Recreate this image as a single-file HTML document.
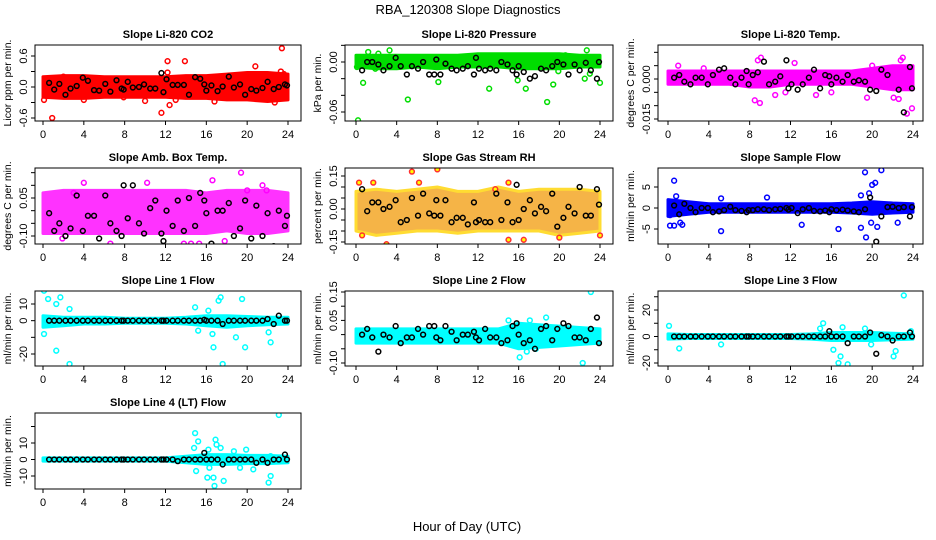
<!DOCTYPE html>
<html><head><meta charset="utf-8"><style>
body{margin:0;background:#fff}
svg{display:block;font-family:"Liberation Sans",Arial,sans-serif}
</style></head><body>
<svg id="chart" width="936" height="540" viewBox="0 0 936 540" xmlns="http://www.w3.org/2000/svg">
<rect width="936" height="540" fill="#fff"/>
<text x="468" y="14" text-anchor="middle" font-size="13">RBA_120308  Slope Diagnostics</text>
<text x="467" y="531" text-anchor="middle" font-size="13">Hour of Day (UTC)</text>
</svg>
<script>
const xTicks=[0,4,8,12,16,20,24];
const blackTimes=[0.6,1.1,1.6,2.2,2.7,3.3,3.9,4.4,5.0,5.5,6.1,6.6,7.2,7.7,7.9,8.3,8.8,9.4,9.9,10.5,11.0,11.6,11.8,12.1,12.7,13.2,13.8,14.3,14.9,15.4,15.8,16.0,16.5,17.1,17.6,18.2,18.7,19.3,19.8,20.4,20.9,21.5,22.0,22.6,23.1,23.7,23.9];
const bandHours=[0,2,4,6,8,10,12,14,16,18,20,22,24];
const titles=["Slope Li-820 CO2","Slope Li-820 Pressure","Slope Li-820 Temp.","Slope Amb. Box Temp.","Slope Gas Stream RH","Slope Sample Flow","Slope Line 1 Flow","Slope Line 2 Flow","Slope Line 3 Flow","Slope Line 4 (LT) Flow"];
const yTitles=["Licor ppm per min.","kPa per min.","degrees C per min.","degrees C per min.","percent per min.","ml/min per min.","ml/min per min.","ml/min per min.","ml/min per min.","ml/min per min."];
const colors=["#ff0000","#00dd00","#ff00ff","#ff00ff","#ffa500","#0000ff","#00ffff","#00ffff","#00ffff","#00ffff"];
const yTickVals=[[-0.6,-0.3,0,0.3,0.6],[-0.06,-0.04,-0.02,0,0.02],[-0.015,-0.01,-0.005,0,0.005,0.01],[-0.1,-0.05,0,0.05,0.1,0.15],[-0.15,-0.1,-0.05,0,0.05,0.1,0.15],[-5,0,5],[-20,-10,0,10],[-0.1,-0.05,0,0.05,0.1,0.15],[-20,-10,0,10,20,30],[-10,0,10,20]];
const yTickLabels=[["-0.6","","0.0","","0.6"],["-0.06","","","0.00",""],["-0.015","","","0.000","",""],["-0.10","","","0.05","",""],["-0.15","","","0.00","","","0.15"],["-5","0","5"],["-20","","0","10"],["-0.10","","","0.05","","0.15"],["-20","","0","","20",""],["-10","0","10",""]];
const bandUp=[[0.2,0.22,0.22,0.2,0.2,0.2,0.2,0.22,0.22,0.25,0.28,0.28,0.25],[0.008,0.008,0.008,0.008,0.008,0.008,0.01,0.01,0.01,0.01,0.01,0.008,0.008],[0.003,0.003,0.003,0.003,0.003,0.003,0.003,0.003,0.003,0.003,0.004,0.005,0.005],[0.07,0.08,0.08,0.08,0.08,0.08,0.08,0.08,0.07,0.08,0.08,0.08,0.07],[0.08,0.09,0.08,0.09,0.1,0.08,0.08,0.1,0.08,0.09,0.09,0.09,0.08],[2,1.5,1,1,1,1,1,1,1,1.2,1.5,1.2,1],[3,2,2,2,1.5,1.5,1.5,2,3,3,2.5,2,2],[0.02,0.02,0.02,0.02,0.02,0.02,0.02,0.02,0.04,0.035,0.03,0.025,0.02],[2,1.5,1.5,1.5,1.5,1.5,1.5,2,3,3,3,2.5,2],[1,1,1,1,1,1,1,2,3,3,2.5,2.5,2]];
const bandLo=[[-0.2,-0.22,-0.22,-0.2,-0.2,-0.2,-0.2,-0.22,-0.22,-0.25,-0.25,-0.28,-0.25],[-0.006,-0.008,-0.008,-0.006,-0.008,-0.006,-0.006,-0.006,-0.008,-0.008,-0.008,-0.006,-0.006],[-0.002,-0.002,-0.002,-0.002,-0.003,-0.003,-0.002,-0.002,-0.002,-0.002,-0.003,-0.004,-0.004],[-0.09,-0.09,-0.09,-0.09,-0.09,-0.09,-0.09,-0.09,-0.09,-0.08,-0.09,-0.09,-0.08],[-0.1,-0.12,-0.11,-0.1,-0.1,-0.11,-0.1,-0.1,-0.1,-0.1,-0.12,-0.11,-0.1],[-2,-1.5,-1,-1,-1,-1,-1,-1,-1,-1.2,-1.5,-1.2,-1],[-4,-3,-2,-2,-1.5,-1.5,-1.5,-2,-3,-4,-3,-2.5,-2],[-0.03,-0.03,-0.03,-0.03,-0.03,-0.03,-0.03,-0.03,-0.05,-0.045,-0.04,-0.035,-0.03],[-2,-1.5,-1.5,-1.5,-1.5,-1.5,-1.5,-2,-3,-3,-3,-2.5,-2],[-1,-1,-1,-1,-1,-1,-1,-2,-3,-3,-2.5,-2.5,-2]];
const outT=[[0.9,0.1,12.2,13.9,11.6,12.4,13,23.4,23.3,20.8,22.7,4,7.9,10,16.8,2,12.2,23.6,23.8],[0.2,0.7,1.2,2.2,3.3,5.1,8.1,13.1,15.9,16.7,18.8,19.4,22.7,22.5,23,24,0.1,1.9,19.9,20.6],[8.8,9.1,8.5,9,12.4,23,22.6,22.1,22.5,23.4,23.9,11.5,14.5,19.5,1,20,22.8,3.5,10.5,16],[19.4,4,10.2,16.6,20,21.5,4.1,6,11.4,12.4,13.8,14.5,15.3,17.8,6.6,21.9,1.9,3],[5.5,8,0.3,1.7,6.2,3,13.7,15,15,16.5,21.6,20,24,0.6],[0.6,0.2,0.2,0.6,0.8,1.2,1.4,5.2,5.2,9.7,13.1,16.7,18.9,19.3,19.4,19.7,20,20.3,20.9,20.5,19.9,22.5,18.9],[0.1,0.5,0.1,1.3,1.7,1.3,2.6,2.6,16.6,16.7,17.2,17.4,17.6,19.5,19.8,22.3,22.1,15.2,16.2,18.9,14.9],[23.1,18.7,15,17.1,16.1,16.8,17.6,17.7,22.1,22.3,23.4,16.8],[23.1,0.1,1.1,5.2,15.2,14.9,16.2,16.7,16.9,17.6,17.1,19.3,22.1,22.3,23.8,19.9],[23.1,14.9,15.2,14.8,15,16.1,16.7,16.8,16.9,17,17.4,17.7,18.7,19.9,19.3,20.6,22.1,22.3,22.3,16.3,16.2]];
const outV=[[-0.6,-0.25,0.5,0.5,-0.5,-0.35,-0.25,0.75,0.3,0.4,-0.3,-0.25,-0.2,-0.27,-0.28,0.2,0.28,0.25,-0.18],[-0.07,-0.025,0.012,0.01,0.014,-0.045,-0.024,-0.032,-0.022,-0.032,-0.048,-0.027,0.014,-0.02,-0.014,-0.025,-0.006,-0.008,-0.011,0.008],[0.007,0.008,-0.008,-0.009,0.006,0.008,-0.0075,-0.007,-0.018,-0.013,-0.011,-0.005,-0.006,-0.007,0.005,0.005,0.007,0.004,-0.006,-0.005],[0.15,0.11,0.11,0.12,0.08,0.1,-0.16,-0.15,-0.16,-0.15,-0.13,-0.13,-0.13,-0.12,-0.13,0.08,-0.11,0.07],[0.17,0.18,0.12,0.12,0.12,-0.16,0.09,0.12,-0.14,-0.14,-0.18,-0.13,-0.12,-0.12],[6.5,-1.7,-4.2,-4.2,2.8,-3.5,-4,-5.5,2.3,2.5,-4,-5,-4.7,8.5,-7,3.5,5.5,6,9,-4.5,-3.5,-3.5,3],[18,13,-8,10,14,-18,7,-26,-8,-16,12,14,-26,13,-16,-13,-7,-6,6,-10,8],[0.15,0.06,0.05,0.05,-0.08,-0.12,-0.18,-0.05,-0.12,-0.1,-0.13,-0.06],[31,8,-9,-6,10,6,-10,-20,-15,-21,7,6,-15,-11,4,-6],[27,16,11,7,-7,-11,-11,-16,12,9,7,-13,5,6,-5,-6,-14,-10,2,-5,6]];
const blackV=[[0.08,-0.05,0.06,-0.15,-0.03,0.02,0.18,0.12,-0.06,-0.07,0.06,-0.09,0.13,-0.03,-0.05,0.1,-0.01,0,0.05,-0.03,-0.03,0.27,-0.1,0.15,0.04,0.04,0.04,-0.15,0.19,0.16,0.05,-0.07,0.03,-0.08,0.01,0.2,-0.01,0.05,-0.15,-0.04,-0.07,-0.02,0.1,-0.04,0,0.05,0.03],[-0.01,0,0,-0.003,-0.01,-0.005,0.005,-0.005,-0.015,-0.005,-0.008,0,-0.015,-0.015,0.003,-0.015,-0.002,-0.008,-0.01,-0.008,-0.005,-0.015,0.005,-0.008,-0.01,-0.008,-0.01,0,-0.003,-0.01,-0.015,-0.005,-0.012,-0.02,-0.017,-0.008,-0.01,-0.005,0,-0.003,-0.015,-0.003,-0.01,-0.001,-0.01,-0.02,0],[0.0005,0.0015,-0.001,-0.002,0.0005,0.0005,-0.002,0.0015,0.0035,0.004,0.0005,-0.002,0.0005,0.003,-0.002,0.0015,0.0025,0.0065,-0.002,-0.001,0.001,0.007,-0.0035,-0.002,-0.004,-0.002,0.0005,0.0035,-0.0035,0.0015,0.001,-0.002,0.0005,-0.001,0.0015,-0.001,-0.0005,-0.001,-0.004,-0.0045,0.0035,0.0015,0.0145,-0.004,-0.0125,0.0045,-0.0035],[-0.01,-0.08,-0.05,-0.1,-0.07,0.06,-0.08,-0.02,-0.02,-0.11,0.06,-0.05,-0.08,-0.1,0.1,-0.03,0.1,-0.05,-0.09,0.01,0.04,-0.09,-0.12,0,-0.06,0.04,-0.08,0.05,-0.06,0.07,0.04,-0.01,-0.13,0,0,0.03,-0.1,-0.07,0.04,-0.11,0.02,-0.1,-0.01,-0.14,0,-0.06,-0.02],[0.09,-0.01,0.03,0.03,0,0.01,0.04,-0.06,-0.05,0.05,-0.03,0.07,-0.02,-0.03,0.04,-0.03,0.04,-0.06,-0.04,-0.04,-0.07,0.03,-0.06,-0.05,-0.06,-0.06,0.07,-0.05,0.03,-0.06,0.11,-0.05,0,0.04,-0.02,0.01,-0.01,0.07,-0.08,-0.04,0.01,-0.02,0.1,-0.03,-0.03,0.09,0.02],[0.6,-1.5,1,0,-1,0,0,-1,-0.8,-0.5,0.3,-0.5,-0.7,-1,-0.5,-0.5,-0.3,-0.3,-0.5,-0.3,-0.2,0,-0.4,0,-1.2,-0.3,0,-0.7,-0.8,-0.6,-1,-0.3,-0.5,-0.4,-0.6,-0.8,-1,-0.3,2.5,-8,-2,0.2,0.3,0,0.2,-2,0.2],[0,0,0,0,0,0,0,0,0,0,0,0,0,0,0,0,0,0,0,0,0,0,0,0,0,0,0,0,0,0,0.5,0,0,0,-2,0,0,0,0,0,0,0,1,-2,3,0,0],[0,0.02,-0.01,-0.06,0,-0.01,0.03,-0.03,-0.01,-0.01,0.02,0,0.03,0.03,-0.01,-0.02,0.03,0.01,-0.02,0,0,0.01,-0.01,-0.02,0.02,-0.01,-0.01,-0.03,-0.02,0.03,0.04,0,-0.03,-0.02,-0.05,0.02,0.03,-0.02,0.02,0.04,0.03,-0.01,-0.01,-0.02,0.02,0.06,-0.03],[0,0,0,0,0,0,0,0,0,0,0,0,0,0,0,0,0,0,0,0,0,0,0,0,0,0,0,0,0,0,4,0,0,0,-5,0,0,0,3,-13,1,0,-3,0,0,3,0],[0,0,0,0,0,0,0,0,0,0,0,0,0,0,0,0,0,0,0,0,0,0,0,0,0,-1,0,0,0,0,4,0,0,0,-3,0,0,0,0,0,-2,0,-2,0,0,3,0]];
const L=[[35,301,45,121,43,288,0.6,56,-0.6,118],[345,613,45,121,356,600,0,62,-0.06,112],[658,923,45,121,668,913,0,79,-0.015,119],
[35,301,168,244,43,288,0.05,198,-0.1,236],[345,613,168,244,356,600,0.15,176,-0.15,242],[658,923,168,244,668,913,5,187,-5,229],
[35,301,291,366,43,288,10,304,-20,354],[345,613,291,366,356,600,0.15,292,-0.1,363],[658,923,291,366,668,913,20,310,-20,363],
[35,301,413,489,43,288,10,443,-10,476]];
const NS="http://www.w3.org/2000/svg";
const svg=document.getElementById('chart');
function mk(tag,attrs,parent){const e=document.createElementNS(NS,tag);for(const k in attrs)e.setAttribute(k,attrs[k]);parent.appendChild(e);return e;}
for(let p=0;p<10;p++){
  const [bl,br,bt,bb,x0,x24,v1,p1,v2,p2]=L[p];
  const xs=h=>x0+(x24-x0)*h/24;
  const ys=v=>p1+(p2-p1)*(v-v1)/(v2-v1);
  const g=mk('g',{},svg);
  
  
  const clipId='c'+p;
  const cp=mk('clipPath',{id:clipId},g);mk('rect',{x:bl,y:bt,width:br-bl,height:bb-bt},cp);
  const plot=mk('g',{'clip-path':'url(#'+clipId+')'},g);
  let d='';
  bandHours.forEach((h,i)=>{d+=(i?'L':'M')+xs(h).toFixed(1)+','+ys(bandUp[p][i]).toFixed(1);});
  for(let i=bandHours.length-1;i>=0;i--)d+='L'+xs(bandHours[i]).toFixed(1)+','+ys(bandLo[p][i]).toFixed(1);
  const op=(p===3||p===4)?0.8:1;
  const band=mk('path',{d:d+'Z',fill:p===4?'#f3a21a':colors[p],stroke:p===4?'#ffd400':colors[p],'stroke-width':3,'stroke-linejoin':'round',opacity:op},plot);
  
  
  outT[p].forEach((t,i)=>{
    const c=mk('circle',{cx:xs(t),cy:ys(outV[p][i]),r:2.4,fill:p===4?'#ff0':'none',stroke:p===4?'#ff3030':colors[p],'stroke-width':1.5},plot);
    
    
  });
  blackTimes.forEach((t,i)=>{
    if(blackV[p][i]===undefined)return;
    const c=mk('circle',{cx:xs(t),cy:ys(blackV[p][i]),r:2.4,fill:'none',stroke:'#000','stroke-width':1.5},plot);
    
    
  });
  mk('rect',{x:bl,y:bt,width:br-bl,height:bb-bt,fill:'none',stroke:'#000','stroke-width':1},g);
  mk('line',{x1:xs(0),x2:xs(24),y1:bb,y2:bb,stroke:'#000'},g);
  xTicks.forEach(h=>{
    mk('line',{x1:xs(h),x2:xs(h),y1:bb,y2:bb+4,stroke:'#000'},g);
    const t=mk('text',{x:xs(h),y:bb+17,'text-anchor':'middle','font-size':11},g);
    
    
    t.textContent=h;
  });
  const tv=yTickVals[p];
  const inRange=tv.filter(v=>ys(v)>=bt-1&&ys(v)<=bb+1);
  mk('line',{x1:bl,x2:bl,y1:ys(inRange[0]),y2:ys(inRange[inRange.length-1]),stroke:'#000'},g);
  tv.forEach((v,i)=>{
    const y=ys(v);if(y<bt-1||y>bb+1)return;
    mk('line',{x1:bl-4,x2:bl,y1:y,y2:y,stroke:'#000'},g);
    const lab=yTickLabels[p][i];
    if(lab){const t=mk('text',{x:bl-8,y:y,'text-anchor':'middle','font-size':11,transform:'rotate(-90 '+(bl-8)+' '+y+')'},g);
      
      
      t.textContent=lab;}
  });
  const cy=(bt+bb)/2;
  const yt=mk('text',{x:bl-24,y:cy,'text-anchor':'middle','font-size':10.5,transform:'rotate(-90 '+(bl-24)+' '+cy+')'},g);
  
  
  yt.textContent=yTitles[p];
  const tt=mk('text',{x:(bl+br)/2,y:bt-7,'text-anchor':'middle','font-size':11,'font-weight':'bold'},g);
  
  
  tt.textContent=titles[p];
}
</script>
</body></html>
